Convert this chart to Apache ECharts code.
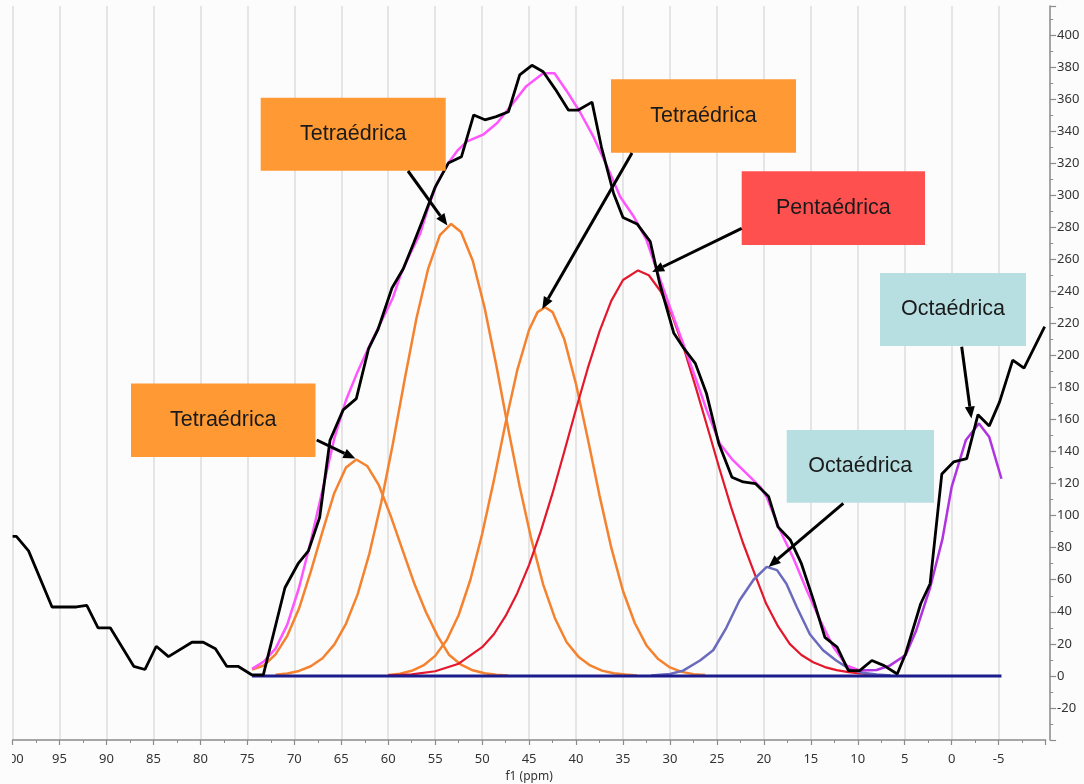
<!DOCTYPE html>
<html><head><meta charset="utf-8">
<script src="https://cdn.jsdelivr.net/npm/echarts@6/dist/echarts.min.js"></script>
<style>html,body{margin:0;padding:0;background:#fcfcfc}#c{width:1084px;height:784px}</style>
</head><body><div id="c"></div>
<script>
// ---- data (ppm, intensity) ----
const spectrum = [[100,87],[99.6,87],[98.3,78],[95.8,43],[93.2,43],[92.1,44],[90.9,30],[89.6,30],[87.1,6],[85.9,4],[84.7,18.5],[83.4,12],[80.9,21],[79.7,21],[78.4,17],[77.2,6],[76.0,6],[74.5,0.6],[73.3,0.6],[71.0,55],[69.6,70],[68.5,78],[67.3,99],[66.2,147],[64.8,166],[63.4,173],[62.1,204],[61.1,216],[59.6,242],[58.4,254],[57.3,270],[56.3,285],[55.0,305],[53.6,320],[52.2,324],[50.9,350],[49.7,347],[48.5,349],[47.2,352],[46.0,375],[44.7,381],[43.5,377],[42.2,366],[40.8,353],[39.8,353],[38.3,358],[37.3,330],[36.0,301],[35.0,286],[33.5,282],[32.1,271],[31.1,245],[29.6,214],[28.6,205],[27.3,195],[26.1,176],[24.8,145],[23.4,124],[22.2,121],[20.9,120],[19.5,112],[18.5,93],[17.2,85],[16.0,70],[14.7,47],[13.5,24],[12.2,18],[11.0,3.3],[9.8,3.3],[8.5,9.6],[7.2,6.4],[5.8,1.2],[4.9,14],[3.3,45],[2.3,57.5],[1.05,126],[-0.2,133.5],[-1.6,135.6],[-2.8,163],[-4.0,156],[-5.1,171],[-6.5,197],[-7.7,192],[-9.9,218]];

const fitSum = [[74.5,4.4],[73.25,9],[72,17],[70.75,32],[69.5,55],[68.25,84],[67,116],[65.75,148],[64.5,172],[63.25,190],[62,206],[60.75,221],[59.5,236],[58.7,250],[57.7,263],[56.6,276],[55.7,293],[54.8,307.5],[53.6,320],[52.6,328],[51.6,333.5],[49.9,337.7],[48.4,345],[46.7,357.5],[45.3,368],[43.5,376],[42.3,376],[41.0,365],[39.6,352],[38.2,337],[36.7,318],[35.3,299],[33.9,287],[32.5,272],[31.4,253],[30.0,230],[28.6,207.5],[27.2,184.5],[26.1,166],[24.7,145],[23.3,134.6],[21.8,126],[20.4,118],[19.7,111.6],[18.3,91],[16.9,74],[15.4,53],[14.0,34.6],[12.6,18],[11.2,6.4],[9.8,3.3]];

const fitOcta2 = [[11.2,6.4],[9.8,3.3],[8.0,3.7],[6.6,6.4],[4.9,13],[3.8,28],[2.3,55],[1.0,85],[0.0,118],[-1.5,147],[-2.9,157.5],[-4.0,149],[-5.3,123]];

const tetraA = [[74.5,4],[73.25,6.5],[72,13.4],[70.75,25],[69.5,42],[68.25,65],[67,90],[65.75,114],[64.5,130],[63.4,135],[62.25,131],[61,119],[59.75,100],[58.5,79],[57.25,58],[56,40],[54.75,25],[53.5,13],[52.25,7],[51,3.5],[49.75,1.6],[48.5,0.7],[47.25,0.3]];

const tetraB = [[72,0.7],[70.75,1.5],[69.5,3.1],[68.25,6],[67,11],[65.75,19.5],[64.5,32.5],[63.25,51],[62,76.5],[60.75,108],[59.5,145],[58.25,185],[57,223],[55.75,254],[54.5,275],[53.3,282],[52.25,277],[51,259],[49.75,230],[48.5,194],[47.25,155],[46,118],[44.75,85],[43.5,57],[42.25,36],[41,21],[39.75,12],[38.5,6.5],[37.25,3.3],[36,1.6],[34.75,0.8],[33.5,0.3]];

const tetraC = [[60,0.6],[58.75,1.4],[57.5,3.2],[56.25,6.5],[55,12.5],[53.75,22.6],[52.5,38],[51.25,60],[50,88.5],[48.75,122],[47.5,158],[46.25,191],[45,216],[44.1,227],[43.3,230],[42.5,227],[41.25,210],[40,182],[38.75,148],[37.5,112.5],[36.25,80],[35,53],[33.75,33],[32.5,19],[31.25,10.5],[30,5.3],[28.75,2.5],[27.5,1.1],[26.25,0.5]];

const pentaD = [[60,0.3],[57.5,1],[55,2.9],[52.5,7.6],[50,17.9],[48.75,26],[47.5,37.4],[46.25,51.8],[45,69.3],[43.75,90.3],[42.5,114],[41.25,140],[40,166.5],[38.75,192],[37.5,215],[36.25,234],[35,247],[33.4,253],[32.25,250],[31,240],[29.75,224.6],[28.5,204],[27.25,180],[26,155],[24.75,129.7],[23.5,105.5],[22.25,83.4],[21,64],[19.75,45],[18.5,31],[17.25,20],[16,13],[14.75,8.5],[13.5,5.5],[12.25,3.6],[11,2.4],[9.75,1.5],[8.5,0.9]];

const octaE = [[32,0.3],[30,1.2],[28.6,3.3],[26.8,9.6],[25.4,16],[24.0,30],[22.6,47],[21.1,60],[19.7,68],[18.6,66],[17.6,57.5],[16.5,43],[15.1,26],[13.7,16],[12.3,9.6],[10.9,4.4],[9.5,2],[8,0.8],[6.5,0.3]];

const baseline = [[74.5,0],[-5.3,0]];

// annotations: label text and the data point each arrow points at
const annoLabels = ['Tetraédrica','Tetraédrica','Pentaédrica','Tetraédrica','Octaédrica','Octaédrica'];
const annoTargets = [[53.7,281],[43.6,229],[31.9,252],[63.5,135.6],[19.5,68],[-2.1,160.6]];

// ---- layout / styles (pixels) ----
const annoBoxes = [[260.7,97.7,185,73],[611,79.3,185,73.4],[741.7,171.3,183.3,73.7],[131,383.5,184.5,73.5],[786.7,430,147.3,72.7],[880,273,146,73]];
const annoTails = [[408,171],[632,153],[741.7,228.3],[316.7,440],[843.3,503.3],[961.7,346.7]];
const annoFills = ['#ff9933','#ff9933','#ff5050','#ff9933','#b7dfe1','#b7dfe1'];

const chart = echarts.init(document.getElementById('c'), null, {renderer:'canvas'});
const lineS = (name, data, color, width, z) => ({
  name, type:'line', data, symbol:'none', showSymbol:false, smooth:false,
  lineStyle:{color, width}, itemStyle:{color}, z, silent:true, animation:false
});
const axisFont = 'Noto Sans';
chart.setOption({
  backgroundColor:'#fcfcfc',
  animation:false,
  grid:{left:12.6, top:6, width:1033, height:734, containLabel:false, outerBoundsMode:'none'},
  xAxis:{
    type:'value', inverse:true, min:-10, max:100, interval:5,
    name:'f1 (ppm)', nameLocation:'middle', nameGap:25,
    nameTextStyle:{fontSize:12, color:'#333', fontFamily:axisFont},
    axisLine:{show:true, onZero:false, lineStyle:{color:'#8a8a8a', width:1.5}},
    axisTick:{show:true, length:5, lineStyle:{color:'#8a8a8a', width:1.2}},
    minorTick:{show:true, splitNumber:2, length:3, lineStyle:{color:'#8a8a8a', width:1}},
    axisLabel:{margin:13, fontSize:13, color:'#333', fontFamily:axisFont,
      formatter: v => (v === -10 ? '' : String(v))},
    splitLine:{show:true, showMinLine:false, lineStyle:{color:'#dedede', width:1.5}},
    minorSplitLine:{show:false}
  },
  yAxis:{
    type:'value', position:'right', offset:4.5, min:-40, max:418, interval:20,
    axisLine:{show:true, onZero:false, lineStyle:{color:'#8a8a8a', width:1.5}},
    axisTick:{show:true, inside:false, length:6, lineStyle:{color:'#8a8a8a', width:1.2}},
    minorTick:{show:true, splitNumber:2, length:3, lineStyle:{color:'#8a8a8a', width:1}},
    axisLabel:{margin:7, fontSize:13, color:'#333', fontFamily:axisFont, showMinLabel:false, showMaxLabel:false,
      formatter: v => ((v % 20 === 0 && v > -40 && v <= 400) ? String(v) : '')},
    splitLine:{show:false}
  },
  series:[
    lineS('Tetraédrica A', tetraA, '#f5822e', 2.5, 2),
    lineS('Tetraédrica B', tetraB, '#f5822e', 2.5, 2),
    lineS('Tetraédrica C', tetraC, '#f5822e', 2.5, 2),
    lineS('Pentaédrica', pentaD, '#e3182c', 2.2, 3),
    lineS('Octaédrica', octaE, '#6b6bbd', 2.5, 3),
    lineS('Ajuste', fitOcta2, '#b033e0', 2.5, 4),
    lineS('Suma', fitSum, '#ff55ff', 2.5, 4),
    lineS('Base', baseline, '#1c1c8c', 3, 5),
    lineS('Espectro', spectrum, '#000000', 2.8, 6)
  ]
});

// annotations
const graphics = [];
annoLabels.forEach((txt, i) => {
  const b = annoBoxes[i];
  graphics.push({type:'rect', z:50, shape:{x:b[0], y:b[1], width:b[2], height:b[3]}, style:{fill:annoFills[i]}});
  graphics.push({type:'text', z:51, x:b[0]+b[2]/2, y:b[1]+b[3]/2,
    style:{text:txt, fill:'#1a1a1a', font:'21.5px "Liberation Sans", Arial, sans-serif', align:'center', verticalAlign:'middle'}});
  const tip = chart.convertToPixel({gridIndex:0}, annoTargets[i]);
  const tail = annoTails[i];
  const dx = tip[0]-tail[0], dy = tip[1]-tail[1];
  const len = Math.sqrt(dx*dx+dy*dy);
  const ux = dx/len, uy = dy/len;
  const hl = 12, hw = 5;
  const bx = tip[0]-ux*hl, by = tip[1]-uy*hl;
  graphics.push({type:'line', z:52, shape:{x1:tail[0], y1:tail[1], x2:bx, y2:by}, style:{stroke:'#000', lineWidth:3}});
  graphics.push({type:'polygon', z:52, shape:{points:[[tip[0],tip[1]],[bx-uy*hw, by+ux*hw],[bx+uy*hw, by-ux*hw]]}, style:{fill:'#000'}});
});
// left edge of the original picture is cropped
graphics.push({type:'rect', z:60, shape:{x:0, y:744, width:12, height:40}, style:{fill:'#fcfcfc'}});
chart.setOption({graphic:graphics});
</script>
</body></html>
